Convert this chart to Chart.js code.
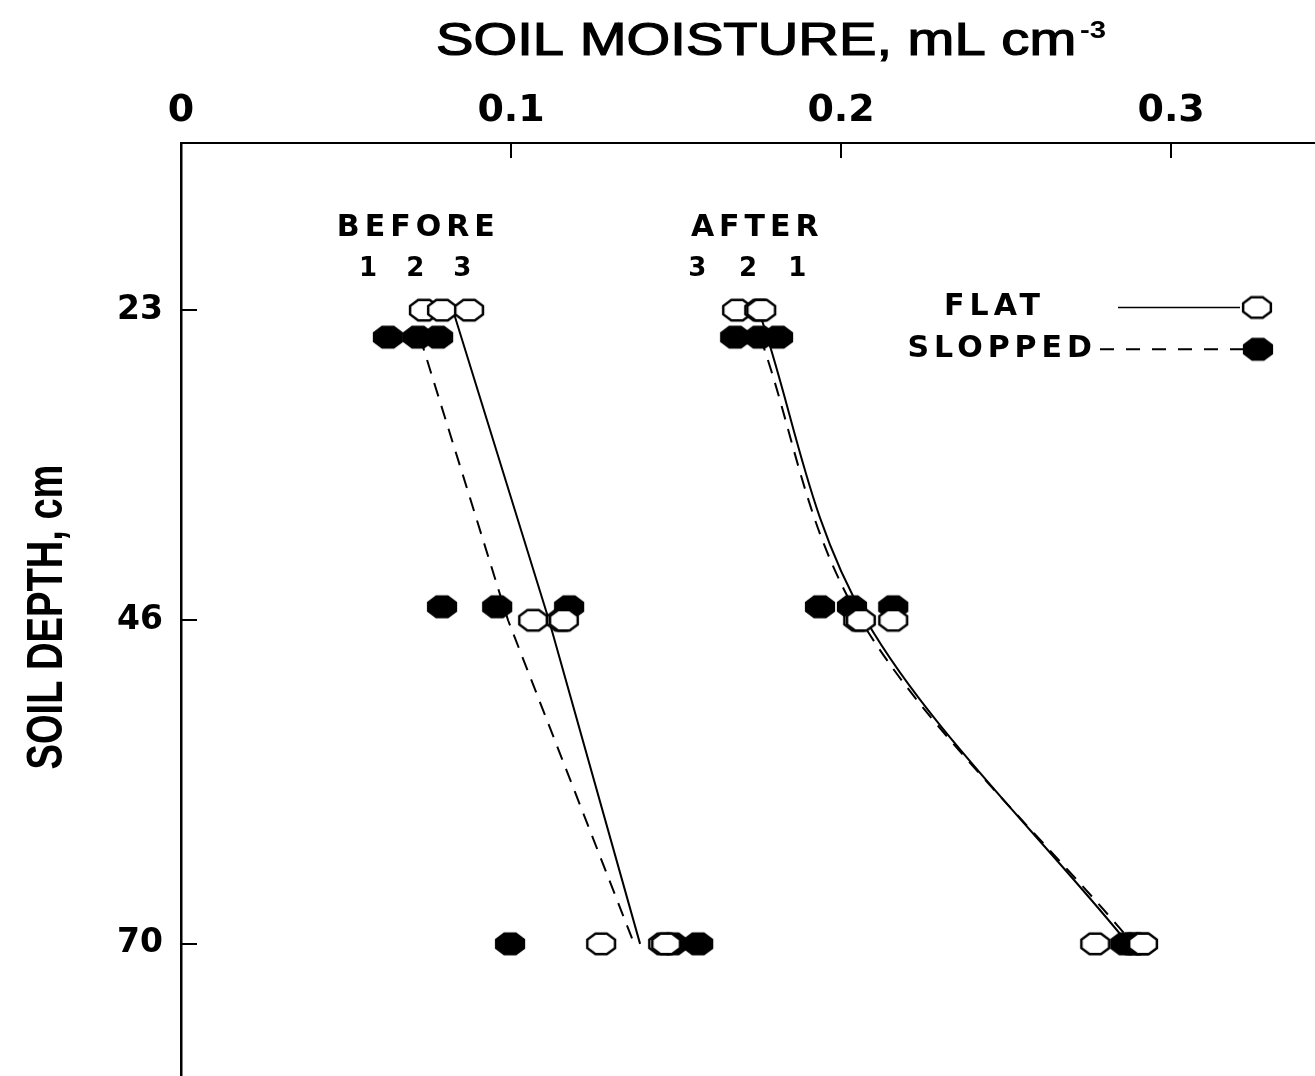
<!DOCTYPE html>
<html>
<head>
<meta charset="utf-8">
<script src="https://cdn.jsdelivr.net/npm/chart.js@4.4.1/dist/chart.umd.min.js"></script>
<style>
  html, body { margin: 0; padding: 0; background: #fff; }
  #wrap { width: 1315px; height: 1076px; position: relative; }
</style>
</head>
<body>
<div id="wrap"><canvas id="chart"></canvas></div>
<script>
// replicate readings (plots 1, 2, 3) at each depth
var flatDepths   = [23, 23, 23, 46, 46, 46, 70, 70, 70];
var slopedDepths = [25, 25, 25, 45, 45, 45, 70, 70, 70];

var beforeFlat   = [0.0736, 0.0791, 0.0873, 0.1067, 0.1152, 0.1160, 0.1273, 0.1461, 0.1470];
var beforeSloped = [0.0627, 0.0718, 0.0779, 0.0791, 0.0958, 0.1176, 0.0997, 0.1490, 0.1567];
var afterFlat    = [0.1685, 0.1752, 0.1758, 0.2052, 0.2158, 0.2060, 0.2770, 0.2912, 0.2915];
var afterSloped  = [0.1679, 0.1752, 0.1809, 0.1936, 0.2033, 0.2158, 0.2861, 0.2880, 0.2890];

// fitted lines
var flatLineDepths   = [23, 46, 70];
var slopedLineDepths = [25, 46, 70];
var beforeFlatLine   = [0.0824, 0.1115, 0.1391];
var beforeSlopedLine = [0.0724, 0.0991, 0.1373];
var afterFlatLine    = [0.1750, 0.2076, 0.2870];
var afterSlopedLine  = [0.1755, 0.2060, 0.2885];

var xTicks = [0, 0.1, 0.2, 0.3];
var yTicks = [23, 46, 70];

function pts(xs, ys) {
    return xs.map(function(v, i) { return {x: v, y: ys[i]}; });
}

function octagon(filled) {
    var c = document.createElement('canvas');
    c.width = 34; c.height = 26;
    var g = c.getContext('2d');
    g.beginPath();
    for (var i = 0; i < 8; i++) {
        var a = Math.PI / 8 + i * Math.PI / 4;
        var px = 17 + 15 * Math.cos(a), py = 13 + 11 * Math.sin(a);
        if (i) g.lineTo(px, py); else g.moveTo(px, py);
    }
    g.closePath();
    g.fillStyle = filled ? '#000' : '#fff';
    g.fill();
    g.lineWidth = 2.5;
    g.strokeStyle = '#000';
    g.stroke();
    return c;
}
var openMark = octagon(false);
var fullMark = octagon(true);

function lineSet(xs, ys, dashed, curved) {
    var ds = {
        data: pts(xs, ys), showLine: true, pointRadius: 0,
        borderColor: '#000', borderWidth: 2, borderDash: dashed ? [14, 10] : [],
        tension: 0, order: 5
    };
    if (curved) {
        ds.indexAxis = 'y';
        ds.cubicInterpolationMode = 'monotone';
    }
    return ds;
}
function markSet(xs, ys, mark, order) {
    return {
        data: pts(xs, ys), showLine: false, pointStyle: mark, pointRadius: 8,
        borderColor: '#000', backgroundColor: '#000', order: order
    };
}

var boldFont = "'DejaVu Sans', sans-serif";
var helv = "'Liberation Sans', Arial, sans-serif";

var extras = {
    id: 'extras',
    afterDraw: function(chart) {
        var ctx = chart.ctx, xs = chart.scales.x, ys = chart.scales.y, a = chart.chartArea;
        ctx.save();
        ctx.strokeStyle = '#000';
        ctx.lineWidth = 2;
        // inward tick marks
        xTicks.forEach(function(v) {
            if (v === 0) return;
            var px = Math.round(xs.getPixelForValue(v));
            ctx.beginPath(); ctx.moveTo(px, a.top); ctx.lineTo(px, a.top + 15); ctx.stroke();
        });
        yTicks.forEach(function(v) {
            var py = Math.round(ys.getPixelForValue(v));
            ctx.beginPath(); ctx.moveTo(a.left, py); ctx.lineTo(a.left + 16, py); ctx.stroke();
        });

        ctx.fillStyle = '#000';

        // x axis title, wide face, with superscript
        ctx.textAlign = 'left';
        ctx.textBaseline = 'alphabetic';
        ctx.font = '46px ' + helv;
        var main = 'SOIL MOISTURE, mL cm';
        var wMain = ctx.measureText(main).width;
        ctx.font = '24px ' + helv;
        var wSup = ctx.measureText('-3').width;
        var sx = 670 / (wMain + wSup + 3);
        ctx.save();
        ctx.translate(436, 55);
        ctx.scale(sx, 1);
        ctx.lineWidth = 1.2;
        ctx.font = '46px ' + helv;
        ctx.fillText(main, 0, 0);
        ctx.strokeText(main, 0, 0);
        ctx.font = 'bold 24px ' + helv;
        ctx.fillText('-3', wMain + 3, -17);
        ctx.restore();

        // y axis title, condensed
        ctx.save();
        ctx.translate(46, 617);
        ctx.rotate(-Math.PI / 2);
        ctx.font = 'bold 50px ' + helv;
        var yt = 'SOIL DEPTH, cm';
        var wy = ctx.measureText(yt).width;
        ctx.scale(305 / wy, 1);
        ctx.textAlign = 'center';
        ctx.textBaseline = 'middle';
        ctx.fillText(yt, 0, 2);
        ctx.restore();

        ctx.textAlign = 'center';
        ctx.textBaseline = 'middle';
        ctx.letterSpacing = '5px';
        ctx.font = 'bold 30px ' + boldFont;
        ctx.fillText('BEFORE', xs.getPixelForValue(0.0713) + 2, ys.getPixelForValue(16.9));
        ctx.fillText('AFTER', xs.getPixelForValue(0.1740) + 2, ys.getPixelForValue(16.9));
        ctx.letterSpacing = '0px';
        ctx.font = 'bold 26px ' + boldFont;
        [['1', 0.0567], ['2', 0.0710], ['3', 0.0852], ['3', 0.1564], ['2', 0.1718], ['1', 0.1867]].forEach(function(t) {
            ctx.fillText(t[0], xs.getPixelForValue(t[1]), ys.getPixelForValue(20.0));
        });

        // legend
        var yF = ys.getPixelForValue(22.8), yS = ys.getPixelForValue(25.9);
        ctx.letterSpacing = '5px';
        ctx.font = 'bold 30px ' + boldFont;
        ctx.textAlign = 'right';
        ctx.fillText('FLAT', 1045, yF);
        ctx.fillText('SLOPPED', 1097, yS);
        ctx.letterSpacing = '0px';
        ctx.lineWidth = 1.5;
        ctx.beginPath(); ctx.moveTo(1118, yF); ctx.lineTo(1240, yF); ctx.stroke();
        ctx.setLineDash([14, 12]);
        ctx.lineWidth = 2;
        ctx.beginPath(); ctx.moveTo(1100, yS); ctx.lineTo(1244, yS); ctx.stroke();
        ctx.setLineDash([]);
        ctx.drawImage(openMark, 1257 - 17, yF - 13);
        ctx.drawImage(fullMark, 1258 - 17, yS - 13);
        ctx.restore();
    }
};

new Chart(document.getElementById('chart'), {
    type: 'scatter',
    data: {
        datasets: [
            lineSet(beforeFlatLine, flatLineDepths, false, false),
            lineSet(beforeSlopedLine, slopedLineDepths, true, false),
            lineSet(afterFlatLine, flatLineDepths, false, true),
            lineSet(afterSlopedLine, slopedLineDepths, true, true),
            markSet(beforeFlat, flatDepths, openMark, 1),
            markSet(afterFlat, flatDepths, openMark, 1),
            markSet(beforeSloped, slopedDepths, fullMark, 2),
            markSet(afterSloped, slopedDepths, fullMark, 2)
        ]
    },
    plugins: [extras],
    options: {
        responsive: true,
        maintainAspectRatio: false,
        animation: false,
        events: [],
        layout: { padding: 0, autoPadding: false },
        plugins: { legend: { display: false }, tooltip: { enabled: false } },
        scales: {
            x: {
                type: 'linear', position: 'top', min: 0, max: 0.3436,
                afterFit: function(s) { s.height = 143; s.paddingLeft = 0; s.paddingRight = 0; },
                afterBuildTicks: function(s) { s.ticks = xTicks.map(function(v) { return {value: v}; }); },
                grid: { display: false, drawTicks: false },
                border: { display: true, color: '#000', width: 2 },
                ticks: {
                    color: '#000', padding: 9, maxRotation: 0, autoSkip: false,
                    font: { family: boldFont, size: 38, weight: 'bold' },
                    callback: function(v) { return v === 0 ? '0' : v.toFixed(1); }
                }
            },
            y: {
                type: 'linear', reverse: true, min: 10.6, max: 79.8,
                afterFit: function(s) { s.width = 181; s.paddingTop = 0; s.paddingBottom = 0; },
                afterBuildTicks: function(s) { s.ticks = yTicks.map(function(v) { return {value: v}; }); },
                grid: { display: false, drawTicks: false },
                border: { display: true, color: '#000', width: 2.5 },
                ticks: {
                    color: '#000', padding: 18, autoSkip: false,
                    font: { family: boldFont, size: 33, weight: 'bold' }
                }
            }
        }
    }
});
</script>
</body>
</html>
